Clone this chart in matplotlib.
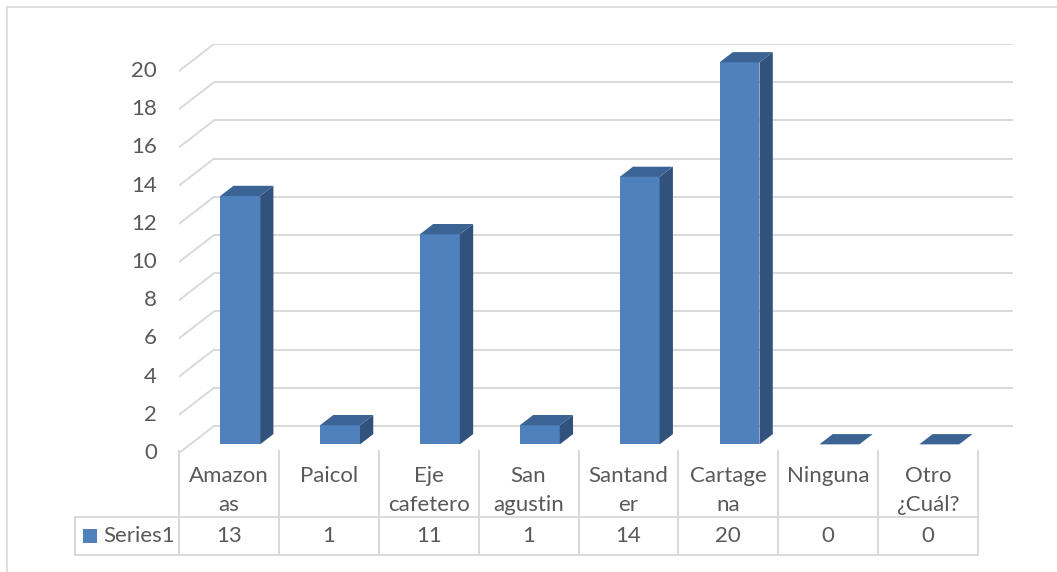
import matplotlib.pyplot as plt
from matplotlib.patches import Polygon, Rectangle

# data
categories = ['Amazon\nas', 'Paicol', 'Eje\ncafetero', 'San\nagustin',
              'Santand\ner', 'Cartage\nna', 'Ninguna', 'Otro\n¿Cuál?']
values = [13, 1, 11, 1, 14, 20, 0, 0]
yticks = list(range(0, 21, 2))
series_name = 'Series1'

plt.rcParams['font.family'] = ['Lato', 'DejaVu Sans']
TXT = '#595959'
GRID = '#d9d9d9'
FRONT, TOP, SIDE = '#4f81bd', '#3b6394', '#31527c'
FS = 16

W, H = 1057, 572
fig = plt.figure(figsize=(W / 100, H / 100), dpi=100)

# pixel frame of the plot (front plane 179..978, 0 at y=453, 20 at y=71)
n = len(categories)
cat_px = (978 - 179) / n
unit_px = (453 - 71) / 20
DX = 35 / cat_px     # depth offset in category units
DY = 27 / unit_px    # depth offset in value units
left, right, bottom, top = 179, 1013, 453, 44
ax = fig.add_axes([left / W, 1 - bottom / H, (right - left) / W, (bottom - top) / H])
ax.set_xlim(-0.5, n - 0.5 + DX)
ax.set_ylim(0, 20 + DY)
ax.axis('off')

# back wall gridlines + side wall diagonals
for v in yticks:
    ax.plot([-0.5 + DX, n - 0.5 + DX], [v + DY, v + DY], color=GRID, lw=1.4,
            solid_capstyle='butt', zorder=1)
    ax.plot([-0.5, -0.5 + DX], [v, v + DY], color=GRID, lw=1.4, zorder=1)
    ax.text(-0.5 - 22 / cat_px, v, str(v), ha='right', va='center',
            fontsize=FS, color=TXT)

# 3d-ish bars
z0, z1 = 0.32, 0.70
bw = 0.4
d = z1 - z0
for i, v in enumerate(values):
    x0 = i - bw / 2 + z0 * DX
    x1 = i + bw / 2 + z0 * DX
    y0 = z0 * DY
    y1 = v + z0 * DY
    top_face = [(x0, y1), (x1, y1), (x1 + d * DX, y1 + d * DY), (x0 + d * DX, y1 + d * DY)]
    if v > 0:
        ax.add_patch(Rectangle((x0, y0), x1 - x0, y1 - y0, facecolor=FRONT,
                               edgecolor='none', zorder=3))
        side = [(x1, y0), (x1 + d * DX, y0 + d * DY), (x1 + d * DX, y1 + d * DY), (x1, y1)]
        ax.add_patch(Polygon(side, closed=True, facecolor=SIDE, edgecolor='none', zorder=3))
    ax.add_patch(Polygon(top_face, closed=True, facecolor=TOP, edgecolor='none', zorder=3))

# data table under the plot
def py(p):
    return (453 - p) / unit_px

def px(p):
    return (p - 179) / cat_px - 0.5

r_top, r_mid, r_bot = py(451), py(517), py(555)
x_leg = px(75)
tbl = dict(color=GRID, lw=1.4, clip_on=False, zorder=1)
for k in range(n + 1):
    ax.plot([k - 0.5, k - 0.5], [r_top, r_bot], **tbl)
ax.plot([x_leg, n - 0.5], [r_mid, r_mid], **tbl)
ax.plot([x_leg, n - 0.5], [r_bot, r_bot], **tbl)
ax.plot([x_leg, x_leg], [r_mid, r_bot], **tbl)

for i, (c, v) in enumerate(zip(categories, values)):
    lines = c.split('\n')
    for j, s in enumerate(lines):
        ax.text(i, py(476 + 29 * j), s, ha='center', va='center',
                fontsize=FS, color=TXT, clip_on=False)
    ax.text(i, py(536), str(v), ha='center', va='center', fontsize=FS,
            color=TXT, clip_on=False)

ax.add_patch(Rectangle((px(83), py(543)), px(97) - px(83), py(529) - py(543),
                       facecolor=FRONT, edgecolor='none', clip_on=False))
ax.text(px(103), py(536), series_name, ha='left', va='center', fontsize=FS,
        color=TXT, clip_on=False)

# chart area border (top and left visible)
fig.add_artist(plt.Line2D([7 / W, 1], [1 - 7 / H, 1 - 7 / H], color=GRID, lw=1.2))
fig.add_artist(plt.Line2D([7 / W, 7 / W], [0, 1 - 7 / H], color=GRID, lw=1.2))

fig.savefig('out.png', dpi=100, facecolor='white')
